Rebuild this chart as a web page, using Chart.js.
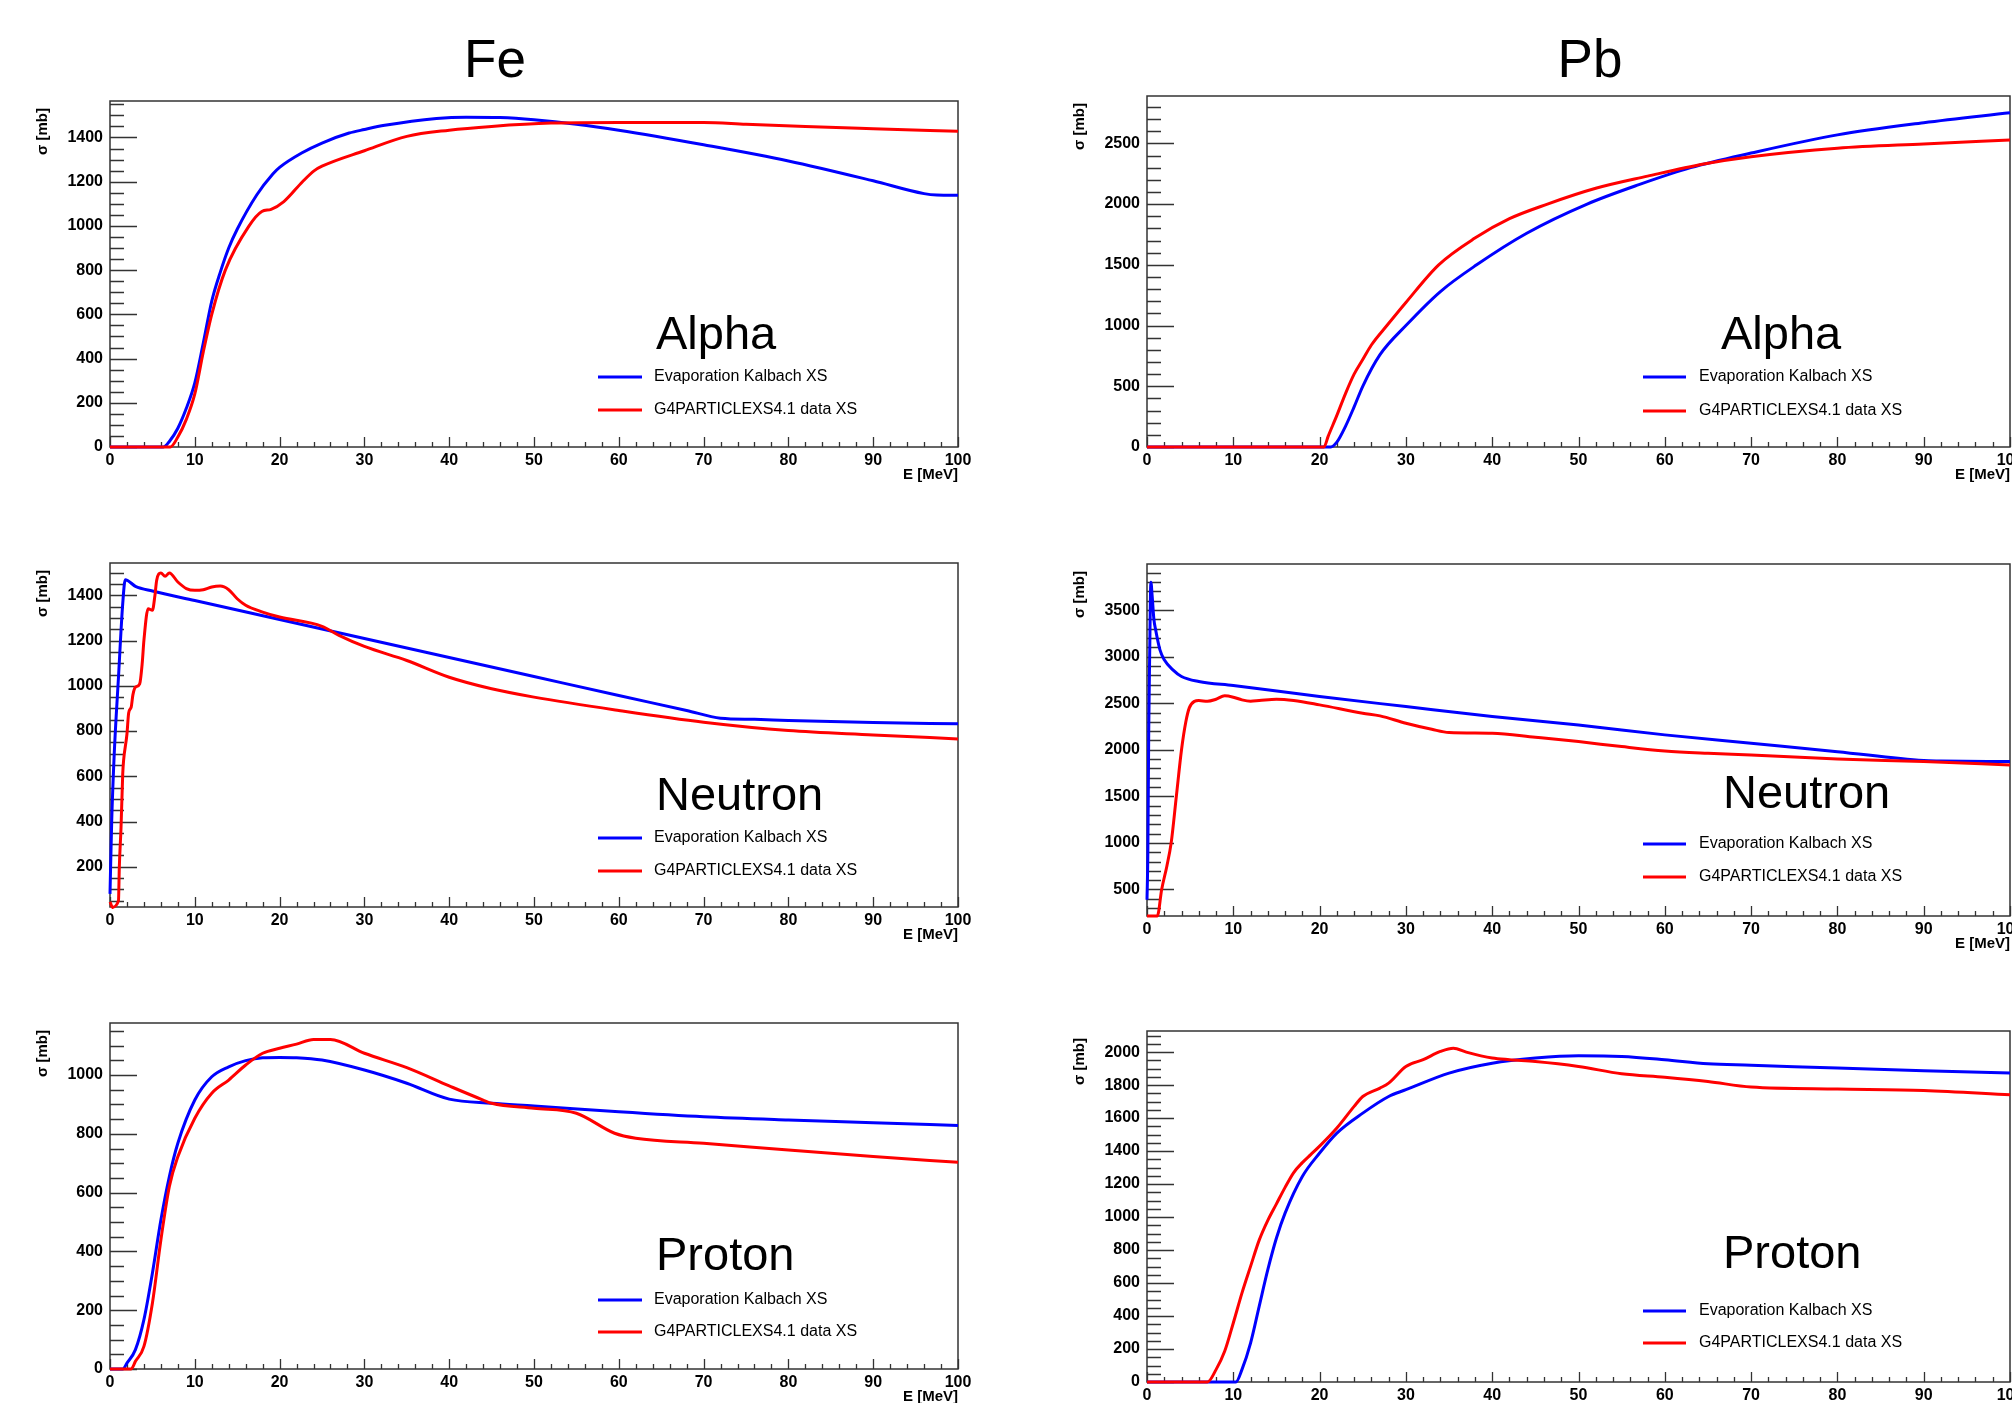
<!DOCTYPE html>
<html>
<head>
<meta charset="utf-8">
<title>Inverse cross sections: Fe and Pb</title>
<script src="https://cdn.jsdelivr.net/npm/chart.js@4.4.1/dist/chart.umd.min.js"></script>
<style>
  html, body { margin: 0; padding: 0; background: #fff; overflow: hidden; width: 2012px; height: 1403px; }
  body { position: relative; font-family: 'Liberation Sans', Arial, sans-serif; }
  .element { position: absolute; top: 32px; font-size: 53px; line-height: 1; transform: translateX(-50%); color: #000; }
  .pad { position: absolute; }
</style>
</head>
<body>
<div class="element" style="left:495px">Fe</div>
<div class="element" style="left:1590px">Pb</div>

<script>
// energy grid (MeV) and cross sections (mb), one pair per curve
const feAlphaKalbachE  = [0, 6.3, 7, 8, 9, 10, 11, 12, 13, 14, 15, 17.3, 19.2, 20, 22.6, 25, 28.2, 30, 32.4, 38.5, 42, 46, 50, 55, 60, 70, 80, 90, 96, 97.5, 100];
const feAlphaKalbachXS = [0, 0, 25, 85, 175, 290, 470, 660, 790, 900, 985, 1140, 1235, 1265, 1330, 1375, 1420, 1436, 1455, 1486, 1492, 1490, 1480, 1460, 1433, 1367, 1294, 1204, 1146, 1140, 1139];
const feAlphaG4E  = [0, 7.1, 8, 9, 10, 11, 12, 13.6, 16.4, 17.9, 19, 20.5, 22.7, 24.1, 25, 30, 35, 40, 45, 52, 60, 70, 75, 82, 90, 100];
const feAlphaG4XS = [0, 0, 45, 125, 240, 430, 600, 800, 1000, 1065, 1075, 1110, 1200, 1250, 1270, 1340, 1405, 1433, 1450, 1465, 1468, 1468, 1460, 1450, 1440, 1428];

const pbAlphaKalbachE  = [0, 21.3, 22, 23, 24, 25, 27, 30, 34, 38.2, 44, 51, 57, 63, 70, 80, 90, 100];
const pbAlphaKalbachXS = [0, 0, 40, 170, 330, 500, 760, 1000, 1280, 1500, 1760, 2000, 2160, 2300, 2420, 2570, 2670, 2752];
const pbAlphaG4E  = [0, 20.5, 21, 22, 23, 24, 25, 26, 27.8, 30, 33.8, 38, 42, 46.4, 52, 58, 64.5, 70, 80, 90, 100];
const pbAlphaG4XS = [0, 0, 90, 260, 440, 600, 720, 840, 1000, 1190, 1500, 1720, 1880, 2000, 2130, 2230, 2330, 2390, 2460, 2495, 2527];

const feNeutronKalbachE  = [0, 0.2, 0.5, 1, 1.5, 1.8, 3, 5, 10, 20, 30, 40, 50, 60, 68, 72, 76, 80, 90, 100];
const feNeutronKalbachXS = [80, 400, 700, 1038, 1363, 1469, 1440, 1419, 1377, 1293, 1209, 1125, 1041, 957, 891, 857, 852, 847, 838, 832];
const feNeutronG4E  = [0, 0.3, 1, 1.1, 1.3, 1.5, 1.6, 2, 2.2, 2.5, 2.7, 3, 3.5, 3.8, 4, 4.5, 5, 5.3, 5.5, 6, 6.5, 7, 8, 9, 10, 11, 12, 13, 14, 15, 16, 18, 20, 25, 27, 30, 35, 40, 45, 50, 60, 70, 80, 90, 100];
const feNeutronG4XS = [45, 20, 50, 200, 374, 610, 669, 787, 880, 906, 960, 994, 1009, 1100, 1201, 1341, 1334, 1400, 1466, 1499, 1484, 1499, 1459, 1430, 1422, 1425, 1437, 1441, 1425, 1385, 1356, 1326, 1304, 1263, 1223, 1174, 1112, 1038, 987, 950, 891, 839, 802, 783, 765];

const pbNeutronKalbachE  = [0, 0.1, 0.2, 0.3, 0.45, 0.6, 0.8, 1, 1.5, 2, 3, 4, 6, 10, 20, 30, 40, 50, 60, 70, 80, 90, 92, 100];
const pbNeutronKalbachXS = [390, 900, 2200, 2950, 3800, 3650, 3400, 3289, 3073, 2966, 2858, 2787, 2733, 2690, 2572, 2464, 2357, 2267, 2160, 2070, 1980, 1884, 1880, 1873];
const pbNeutronG4E  = [0, 1.2, 1.7, 2.3, 2.8, 3.4, 4, 4.5, 4.9, 5.5, 6, 7, 8, 9, 10, 11, 12, 13, 15, 17, 20, 25, 27, 30, 33, 35, 40, 45, 50, 55, 60, 65, 70, 80, 90, 100];
const pbNeutronG4XS = [215, 215, 500, 750, 1000, 1500, 2000, 2300, 2450, 2520, 2529, 2521, 2543, 2579, 2565, 2536, 2522, 2529, 2543, 2529, 2482, 2393, 2364, 2285, 2220, 2185, 2177, 2134, 2088, 2034, 1987, 1962, 1944, 1901, 1873, 1837];

const feProtonKalbachE  = [0, 1.5, 2, 3, 4, 5, 6, 7, 8, 10, 12, 14, 16, 18, 20, 22, 25, 30, 35, 40, 45, 50, 60, 70, 80, 90, 100];
const feProtonKalbachXS = [0, 0, 20, 66, 168, 326, 507, 655, 768, 915, 994, 1028, 1049, 1059, 1060, 1059, 1051, 1017, 972, 918, 904, 895, 875, 858, 847, 838, 828];
const feProtonG4E  = [0, 2.5, 3, 4, 5, 6, 7, 8, 10, 12, 14, 16, 18, 20, 22, 24, 26, 30, 35, 40, 44, 45, 50, 55, 59.5, 62, 70, 80, 90, 100];
const feProtonG4XS = [0, 0, 26, 77, 224, 439, 621, 722, 853, 938, 983, 1034, 1074, 1091, 1105, 1121, 1121, 1074, 1025, 963, 915, 904, 887, 870, 802, 785, 768, 745, 723, 703];

const pbProtonKalbachE  = [0, 10.3, 11, 12, 13, 14, 15, 16, 18, 20, 22, 25, 28, 30, 35, 40, 45, 50, 55, 60, 65, 70, 80, 90, 100];
const pbProtonKalbachXS = [0, 0, 75, 236, 459, 681, 873, 1024, 1246, 1388, 1509, 1630, 1731, 1772, 1873, 1933, 1964, 1978, 1974, 1954, 1929, 1921, 1903, 1887, 1873];
const pbProtonG4E  = [0, 7, 8, 9, 10, 11, 12, 13, 14, 15, 16, 17, 18, 19, 20, 22, 24, 25, 27, 28, 30, 32, 34, 35.5, 37, 40, 42, 45, 50, 55, 60, 65, 70, 80, 90, 100];
const pbProtonG4XS = [0, 0, 75, 186, 358, 539, 701, 860, 980, 1080, 1180, 1270, 1330, 1380, 1430, 1540, 1671, 1731, 1782, 1812, 1913, 1954, 2004, 2024, 2000, 1964, 1954, 1943, 1913, 1869, 1848, 1822, 1788, 1776, 1768, 1741];

const seriesLabels = ['Evaporation Kalbach XS', 'G4PARTICLEXS4.1 data XS'];
const seriesColors = ['#0000ff', '#ff0000'];

// frame box [left, top, right, bottom] in page pixels, y range, label/legend placement
const panels = [
  { name: 'Alpha',   box: [110, 101, 958, 447],    yMin: 0,   yMax: 1565, yStep: 200, yMinor: 50,
    nameAt: [656, 349],   legend: [598, 642, 654, 377, 410],
    curves: [[feAlphaKalbachE, feAlphaKalbachXS], [feAlphaG4E, feAlphaG4XS]] },
  { name: 'Alpha',   box: [1147, 96, 2010, 447],   yMin: 0,   yMax: 2890, yStep: 500, yMinor: 100,
    nameAt: [1721, 349],  legend: [1643, 1686, 1699, 377, 411],
    curves: [[pbAlphaKalbachE, pbAlphaKalbachXS], [pbAlphaG4E, pbAlphaG4XS]] },
  { name: 'Neutron', box: [110, 563, 958, 907],    yMin: 22,  yMax: 1543, yStep: 200, yMinor: 50,
    nameAt: [656, 810],   legend: [598, 642, 654, 838, 871],
    curves: [[feNeutronKalbachE, feNeutronKalbachXS], [feNeutronG4E, feNeutronG4XS]] },
  { name: 'Neutron', box: [1147, 564, 2010, 916],  yMin: 215, yMax: 3995, yStep: 500, yMinor: 100,
    nameAt: [1723, 808],  legend: [1643, 1686, 1699, 844, 877],
    curves: [[pbNeutronKalbachE, pbNeutronKalbachXS], [pbNeutronG4E, pbNeutronG4XS]] },
  { name: 'Proton',  box: [110, 1023, 958, 1369],  yMin: 0,   yMax: 1177, yStep: 200, yMinor: 50,
    nameAt: [656, 1270],  legend: [598, 642, 654, 1300, 1332],
    curves: [[feProtonKalbachE, feProtonKalbachXS], [feProtonG4E, feProtonG4XS]] },
  { name: 'Proton',  box: [1147, 1031, 2010, 1382], yMin: 0,  yMax: 2128, yStep: 200, yMinor: 50,
    nameAt: [1723, 1268], legend: [1643, 1686, 1699, 1311, 1343],
    curves: [[pbProtonKalbachE, pbProtonKalbachXS], [pbProtonG4E, pbProtonG4XS]] }
];

const FONT = "'Liberation Sans', Arial, sans-serif";
const AXIS_W = 110, AXIS_H = 50, PAD_TOP = 25, PAD_RIGHT = 45;

Chart.defaults.font.family = FONT;
Chart.defaults.color = '#000';

// ROOT style frame with inward major/minor ticks, plus in-pad texts
const frameTicks = {
  id: 'frameTicks',
  beforeDatasetsDraw(chart, args, opts) {
    const { ctx, chartArea: a, scales: { x, y } } = chart;
    ctx.save();
    ctx.strokeStyle = '#333';
    ctx.lineWidth = 1.5;
    ctx.strokeRect(a.left, a.top, a.right - a.left, a.bottom - a.top);
    ctx.lineWidth = 1.3;
    ctx.beginPath();
    const per = Math.round(opts.yStep / opts.yMinor);
    for (let k = Math.ceil(y.min / opts.yMinor); k * opts.yMinor <= y.max; k++) {
      const py = Math.round(y.getPixelForValue(k * opts.yMinor)) + 0.5;
      const len = k % per === 0 ? 27 : 14;
      ctx.moveTo(a.left, py);
      ctx.lineTo(a.left + len, py);
    }
    for (let k = 0; k * 2 <= 100; k++) {
      const px = Math.round(x.getPixelForValue(k * 2)) + 0.5;
      const len = k % 5 === 0 ? 10 : 5;
      ctx.moveTo(px, a.bottom);
      ctx.lineTo(px, a.bottom - len);
    }
    ctx.stroke();
    ctx.restore();
  },
  afterDraw(chart, args, opts) {
    const { ctx, chartArea: a } = chart;
    const ox = opts.origin[0], oy = opts.origin[1];
    ctx.save();
    ctx.fillStyle = '#000';

    // axis titles
    ctx.font = 'bold 15px ' + FONT;
    ctx.textAlign = 'right';
    ctx.textBaseline = 'middle';
    ctx.fillText('E [MeV]', a.right, a.bottom + 28);
    ctx.save();
    ctx.translate(a.left - 67, a.top + 7);
    ctx.rotate(-Math.PI / 2);
    ctx.fillText('σ [mb]', 0, 0);
    ctx.restore();

    // particle name
    ctx.font = '47px ' + FONT;
    ctx.textAlign = 'left';
    ctx.textBaseline = 'alphabetic';
    ctx.fillText(opts.name, opts.nameAt[0] - ox, opts.nameAt[1] - oy);

    // legend entries
    const [x1, x2, tx, r1, r2] = opts.legend;
    ctx.font = '16px ' + FONT;
    ctx.textBaseline = 'middle';
    chart.data.datasets.forEach((ds, i) => {
      const ry = (i === 0 ? r1 : r2) - oy;
      ctx.strokeStyle = ds.borderColor;
      ctx.lineWidth = 3;
      ctx.beginPath();
      ctx.moveTo(x1 - ox, ry);
      ctx.lineTo(x2 - ox, ry);
      ctx.stroke();
      ctx.fillText(ds.label, tx - ox, ry);
    });
    ctx.restore();
  }
};

panels.forEach((p) => {
  const [l, t, r, b] = p.box;
  const left = l - AXIS_W, top = t - PAD_TOP;
  const width = r + PAD_RIGHT - left, height = b + AXIS_H - top;

  const wrap = document.createElement('div');
  wrap.className = 'pad';
  wrap.style.left = left + 'px';
  wrap.style.top = top + 'px';
  const canvas = document.createElement('canvas');
  canvas.width = width;
  canvas.height = height;
  wrap.appendChild(canvas);
  document.body.appendChild(wrap);

  const datasets = p.curves.map(([es, xs], i) => ({
    label: seriesLabels[i],
    data: es.map((e, j) => ({ x: e, y: xs[j] })),
    borderColor: seriesColors[i],
    borderWidth: 3,
    pointRadius: 0,
    fill: false,
    cubicInterpolationMode: 'monotone',
    clip: 3,
    order: 1 - i
  }));

  new Chart(canvas, {
    type: 'line',
    data: { datasets },
    plugins: [frameTicks],
    options: {
      responsive: false,
      devicePixelRatio: 1,
      animation: false,
      layout: { padding: { top: PAD_TOP, right: PAD_RIGHT, left: 0, bottom: 0 } },
      plugins: {
        legend: { display: false },
        tooltip: { enabled: false },
        frameTicks: {
          yStep: p.yStep, yMinor: p.yMinor, name: p.name,
          nameAt: p.nameAt, legend: p.legend, origin: [left, top]
        }
      },
      scales: {
        x: {
          type: 'linear', min: 0, max: 100,
          grid: { display: false, drawTicks: false },
          border: { display: false },
          ticks: { stepSize: 10, autoSkip: false, maxRotation: 0, padding: 4,
                   font: { size: 16, weight: 'bold' }, color: '#000',
                   callback: (v) => String(v) },
          afterFit(scale) { scale.height = AXIS_H; }
        },
        y: {
          type: 'linear', min: p.yMin, max: p.yMax,
          grid: { display: false, drawTicks: false },
          border: { display: false },
          ticks: { autoSkip: false, padding: 7,
                   font: { size: 16, weight: 'bold' }, color: '#000',
                   callback: (v) => String(v) },
          afterBuildTicks(scale) {
            const ticks = [];
            for (let k = Math.ceil(p.yMin / p.yStep); k * p.yStep <= p.yMax; k++) {
              ticks.push({ value: k * p.yStep });
            }
            scale.ticks = ticks;
          },
          afterFit(scale) { scale.width = AXIS_W; }
        }
      }
    }
  });
});
</script>
</body>
</html>
